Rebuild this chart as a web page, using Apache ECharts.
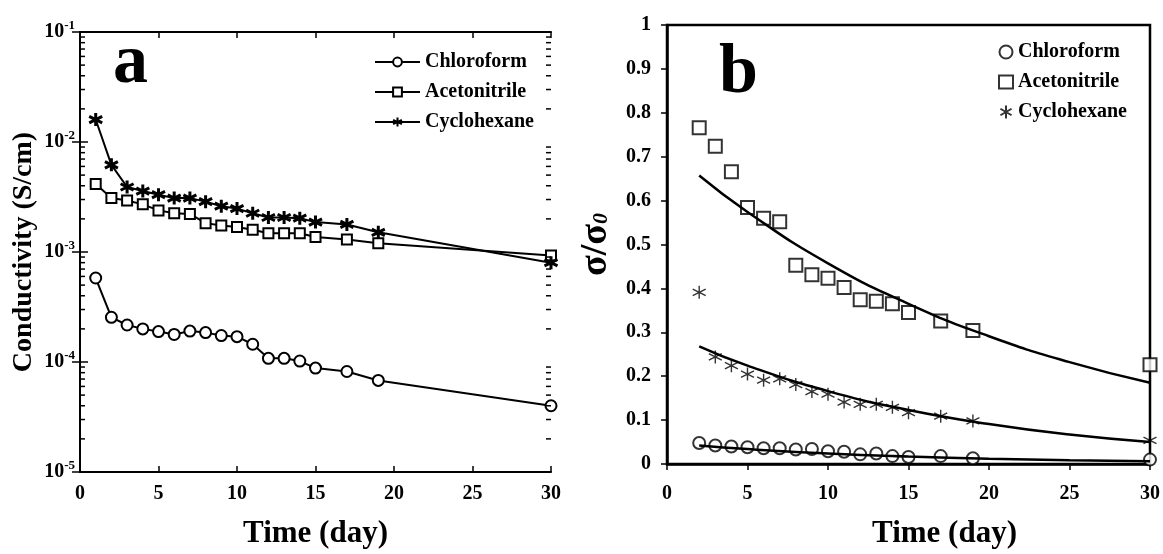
<!DOCTYPE html>
<html>
<head>
<meta charset="utf-8">
<script src="https://cdn.jsdelivr.net/npm/echarts@6/dist/echarts.min.js"></script>
<style>
  html, body { margin: 0; padding: 0; background: #fff; }
  #ChartMain { width: 1163px; height: 554px; }
</style>
</head>
<body>
<div id="ChartMain"></div>
<script>
// panel a: conductivity vs time (log scale)
var daysA = [1, 2, 3, 4, 5, 6, 7, 8, 9, 10, 11, 12, 13, 14, 15, 17, 19, 30];
var chloroA = [5.8e-4, 2.55e-4, 2.17e-4, 2.0e-4, 1.89e-4, 1.78e-4, 1.91e-4, 1.85e-4, 1.74e-4, 1.70e-4, 1.45e-4, 1.08e-4, 1.08e-4, 1.02e-4, 8.8e-5, 8.2e-5, 6.8e-5, 4.0e-5];
var acetoA = [4.16e-3, 3.09e-3, 2.94e-3, 2.71e-3, 2.39e-3, 2.25e-3, 2.22e-3, 1.83e-3, 1.74e-3, 1.69e-3, 1.59e-3, 1.48e-3, 1.48e-3, 1.48e-3, 1.37e-3, 1.30e-3, 1.20e-3, 9.3e-4];
var cycloA = [1.6e-2, 6.2e-3, 3.9e-3, 3.58e-3, 3.32e-3, 3.09e-3, 3.09e-3, 2.87e-3, 2.61e-3, 2.48e-3, 2.25e-3, 2.06e-3, 2.06e-3, 2.03e-3, 1.87e-3, 1.78e-3, 1.51e-3, 8.0e-4];

// panel b: sigma/sigma0 vs time, with fitted curves
var daysB = [2, 3, 4, 5, 6, 7, 8, 9, 10, 11, 12, 13, 14, 15, 17, 19, 30];
var chloroB = [0.048, 0.042, 0.040, 0.038, 0.036, 0.036, 0.033, 0.034, 0.029, 0.028, 0.022, 0.024, 0.018, 0.016, 0.018, 0.013, 0.010];
var acetoB = [0.766, 0.724, 0.666, 0.584, 0.560, 0.552, 0.453, 0.431, 0.423, 0.402, 0.374, 0.371, 0.365, 0.345, 0.326, 0.304, 0.226];
var cycloB = [0.391, 0.244, 0.224, 0.205, 0.191, 0.194, 0.181, 0.165, 0.159, 0.141, 0.136, 0.136, 0.129, 0.117, 0.109, 0.098, 0.054];
var fitDays = [2, 5, 10, 15, 20, 25, 30];
var acetoFit = [0.657, 0.574, 0.457, 0.365, 0.291, 0.232, 0.185];
var cycloFit = [0.268, 0.224, 0.166, 0.123, 0.091, 0.067, 0.050];
var chloroFit = [0.042, 0.034, 0.024, 0.017, 0.012, 0.0085, 0.006];

var names = ['Chloroform', 'Acetonitrile', 'Cyclohexane'];
// log axis minor ticks (2..9 of each decade)
var decades = [1e-5, 1e-4, 1e-3, 1e-2];
var minorMult = [2, 3, 4, 5, 6, 7, 8, 9];

var FONT = 'Liberation Serif';
var asterisk = 'path://M5,0 L5,10 M0.7,2.5 L9.3,7.5 M0.7,7.5 L9.3,2.5';

function pairs(xs, ys) {
    return xs.map(function (x, i) { return [x, ys[i]]; });
}

var minorData = [];
decades.forEach(function (d) {
    minorMult.forEach(function (m) { minorData.push([0, m * d]); });
});

var labelStyle = { color: '#000', fontFamily: FONT, fontWeight: 'bold', fontSize: 20 };

function GenerateChart() {
    var chart = echarts.init(document.getElementById('ChartMain'));
    var option = {
        backgroundColor: '#fff',
        animation: false,
        grid: [
            { left: 80, top: 32, width: 471, height: 442, show: false },
            { left: 667, top: 25, width: 486, height: 446, show: true, borderColor: '#000', borderWidth: 2.5 }
        ],
        legend: [
            {
                data: names, orient: 'vertical', left: 369, top: 47, itemGap: 10,
                itemWidth: 45, itemHeight: 11,
                textStyle: { color: '#000', fontFamily: FONT, fontWeight: 'bold', fontSize: 20 }
            },
            {
                data: names.map(function (n) { return n + ' (b)'; }),
                formatter: function (n) { return n.replace(' (b)', ''); },
                orient: 'vertical', left: 993, top: 37, itemGap: 10,
                itemWidth: 14, itemHeight: 13,
                textStyle: { color: '#000', fontFamily: FONT, fontWeight: 'bold', fontSize: 20 }
            }
        ],
        xAxis: [
            {
                gridIndex: 0, type: 'value', min: 0, max: 30, interval: 5, position: 'bottom',
                name: 'Time (day)', nameLocation: 'middle', nameGap: 46,
                nameTextStyle: { color: '#000', fontFamily: FONT, fontWeight: 'bold', fontSize: 31 },
                axisLine: { lineStyle: { color: '#000', width: 2 } },
                axisTick: { inside: true, length: 6, lineStyle: { width: 1.5 } },
                axisLabel: Object.assign({ margin: 12 }, labelStyle),
                splitLine: { show: false }
            },
            {
                gridIndex: 0, type: 'value', min: 0, max: 30, interval: 5, position: 'top',
                axisLine: { lineStyle: { color: '#000', width: 2 } },
                axisTick: { inside: true, length: 6, lineStyle: { width: 1.5 } },
                axisLabel: { show: false }, splitLine: { show: false }
            },
            {
                gridIndex: 1, type: 'value', min: 0, max: 30, interval: 5,
                name: 'Time (day)', nameLocation: 'middle', nameGap: 54,
                nameTextStyle: { color: '#000', fontFamily: FONT, fontWeight: 'bold', fontSize: 31, padding: [0, 0, 0, 72] },
                axisLine: { lineStyle: { color: '#000', width: 2.5 } },
                axisTick: { inside: false, length: 6, lineStyle: { width: 1.5 } },
                axisLabel: Object.assign({ margin: 20 }, labelStyle),
                splitLine: { show: false }
            }
        ],
        yAxis: [
            {
                gridIndex: 0, type: 'log', logBase: 10, min: 1e-5, max: 1e-1, position: 'left',
                name: 'Conductivity (S/cm)', nameLocation: 'middle', nameGap: 42,
                nameTextStyle: { color: '#000', fontFamily: FONT, fontWeight: 'bold', fontSize: 28 },
                axisLine: { lineStyle: { color: '#000', width: 2 } },
                axisTick: { inside: true, length: 8, lineStyle: { width: 1.5 } },
                axisLabel: {
                    margin: 5,
                    formatter: function (v) { return '{b|10}{s|' + Math.round(Math.log10(v)) + '}'; },
                    rich: {
                        b: { color: '#000', fontFamily: FONT, fontWeight: 'bold', fontSize: 20 },
                        s: { color: '#000', fontFamily: FONT, fontWeight: 'bold', fontSize: 13, padding: [0, 0, 12, 0] }
                    }
                },
                splitLine: { show: false }
            },
            {
                gridIndex: 0, type: 'log', logBase: 10, min: 1e-5, max: 1e-1, position: 'right',
                axisLine: { lineStyle: { color: '#000', width: 2 } },
                axisTick: { inside: true, length: 8, lineStyle: { width: 1.5 } },
                axisLabel: { show: false }, splitLine: { show: false }
            },
            {
                gridIndex: 1, type: 'value', min: 0, max: 1, interval: 0.1,
                name: '{a|σ/σ}{s|0}', nameLocation: 'middle', nameGap: 52,
                nameTextStyle: {
                    rich: {
                        a: { color: '#000', fontFamily: FONT, fontWeight: 'bold', fontSize: 38 },
                        s: { color: '#000', fontFamily: FONT, fontWeight: 'bold', fontStyle: 'italic', fontSize: 22, padding: [10, 0, 0, 0] }
                    }
                },
                axisLine: { lineStyle: { color: '#000', width: 2.5 } },
                axisTick: { inside: false, length: 6, lineStyle: { width: 1.5 } },
                axisLabel: Object.assign({ margin: 16 }, labelStyle),
                splitLine: { show: false }
            }
        ],
        graphic: [
            { type: 'text', left: 113, top: 29, z: 10, style: { text: 'a', fill: '#000', font: 'bold 70px "Liberation Serif"' } },
            { type: 'text', left: 719, top: 39, z: 10, style: { text: 'b', fill: '#000', font: 'bold 70px "Liberation Serif"' } }
        ],
        series: [
            // minor ticks of the log axis, on both sides
            {
                type: 'custom', xAxisIndex: 0, yAxisIndex: 0, silent: true, clip: false, z: 5,
                data: minorData,
                renderItem: function (params, api) {
                    var v = api.value(1);
                    var p1 = api.coord([0, v]);
                    var p2 = api.coord([30, v]);
                    return {
                        type: 'group',
                        children: [
                            { type: 'line', shape: { x1: p1[0], y1: p1[1], x2: p1[0] + 5, y2: p1[1] }, style: { stroke: '#000', lineWidth: 1.5 } },
                            { type: 'line', shape: { x1: p2[0] - 5, y1: p2[1], x2: p2[0], y2: p2[1] }, style: { stroke: '#000', lineWidth: 1.5 } }
                        ]
                    };
                }
            },
            {
                name: 'Chloroform', type: 'line', xAxisIndex: 0, yAxisIndex: 0,
                data: pairs(daysA, chloroA), symbol: 'emptyCircle', symbolSize: 11,
                lineStyle: { color: '#000', width: 2 }, itemStyle: { color: '#000', borderWidth: 1.8 }
            },
            {
                name: 'Acetonitrile', type: 'line', xAxisIndex: 0, yAxisIndex: 0,
                data: pairs(daysA, acetoA), symbol: 'emptyRect', symbolSize: 10,
                lineStyle: { color: '#000', width: 2 }, itemStyle: { color: '#000', borderWidth: 1.8 }
            },
            {
                name: 'Cyclohexane', type: 'line', xAxisIndex: 0, yAxisIndex: 0,
                data: pairs(daysA, cycloA), symbol: asterisk, symbolSize: 13,
                lineStyle: { color: '#000', width: 2 }, itemStyle: { color: '#000', borderColor: '#000', borderWidth: 3 }
            },
            // panel b fits
            {
                type: 'line', xAxisIndex: 2, yAxisIndex: 2, smooth: true, showSymbol: false, symbol: 'none',
                data: pairs(fitDays, acetoFit), lineStyle: { color: '#000', width: 2.5 }
            },
            {
                type: 'line', xAxisIndex: 2, yAxisIndex: 2, smooth: true, showSymbol: false, symbol: 'none',
                data: pairs(fitDays, cycloFit), lineStyle: { color: '#000', width: 2.5 }
            },
            {
                type: 'line', xAxisIndex: 2, yAxisIndex: 2, smooth: true, showSymbol: false, symbol: 'none',
                data: pairs(fitDays, chloroFit), lineStyle: { color: '#000', width: 2.5 }
            },
            // panel b points
            {
                name: 'Chloroform (b)', type: 'scatter', xAxisIndex: 2, yAxisIndex: 2,
                data: pairs(daysB, chloroB), symbol: 'emptyCircle', symbolSize: 12,
                itemStyle: { color: '#000', borderWidth: 1.5 }
            },
            {
                name: 'Acetonitrile (b)', type: 'scatter', xAxisIndex: 2, yAxisIndex: 2,
                data: pairs(daysB, acetoB), symbol: 'emptyRect', symbolSize: 13,
                itemStyle: { color: '#000', borderWidth: 1.5 }
            },
            {
                name: 'Cyclohexane (b)', type: 'scatter', xAxisIndex: 2, yAxisIndex: 2,
                data: pairs(daysB, cycloB), symbol: asterisk, symbolSize: 13,
                itemStyle: { color: '#000', borderColor: '#000', borderWidth: 1.4 }
            }
        ]
    };
    chart.setOption(option);
}
GenerateChart();
</script>
</body>
</html>
